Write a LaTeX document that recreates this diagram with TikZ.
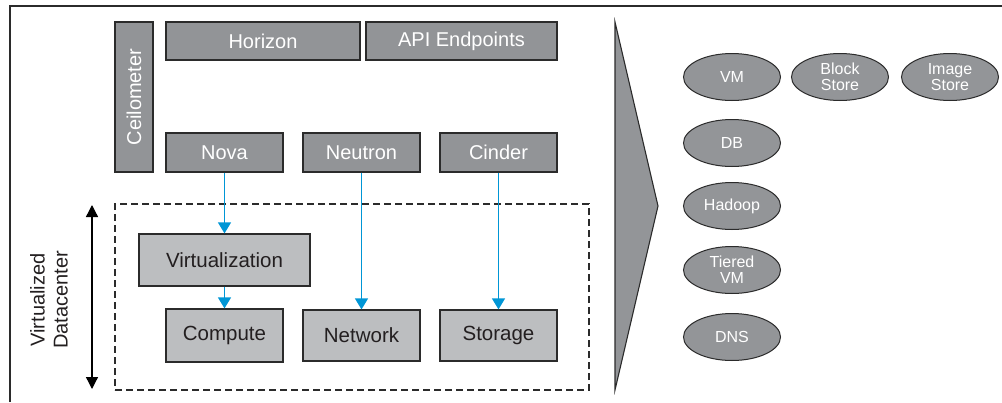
\documentclass[tikz,border=0pt]{standalone}
\usepackage{fontspec}
\setmainfont{Liberation Sans}
\usetikzlibrary{arrows.meta,shapes.geometric}
\definecolor{darkbox}{HTML}{929497}
\definecolor{lightbox}{HTML}{BCBEC0}
\definecolor{ellgray}{HTML}{939598}
\definecolor{bluearr}{HTML}{0096D6}
\definecolor{edge}{HTML}{2B2B2B}
\definecolor{txt}{HTML}{231F20}
\tikzset{
  topbox/.style={draw=edge, line width=1.2pt, fill=darkbox, text=white, inner sep=0pt, font=\fontsize{20}{22}\selectfont},
  lowbox/.style={draw=edge, line width=1.2pt, fill=lightbox, text=txt, inner sep=0pt, font=\fontsize{20.5}{22}\selectfont},
  ell/.style={ellipse, draw=edge, line width=1pt, fill=ellgray, text=white, inner sep=0pt, minimum width=97pt, minimum height=47pt, align=center, font=\fontsize{16}{16}\selectfont},
  bluelink/.style={draw=bluearr, line width=1.2pt, -{Triangle[width=13pt,length=11pt]}},
}
\begin{document}
\begin{tikzpicture}[x=1pt,y=-1pt]
\useasboundingbox (0,0) rectangle (1002,402);
% outer frame (cropped)
\draw[edge, line width=1.3pt] (10,402) -- (10,6) -- (1002,6);
% top boxes
\node[topbox, rotate=90, minimum width=150pt, minimum height=38pt] (ceil) at (134,97) {Ceilometer};
\node[topbox, minimum width=194pt, minimum height=38pt] (horizon) at (263,41) {Horizon};
\node[topbox, minimum width=191pt, minimum height=38pt] (api) at (461.5,41) {API Endpoints};
\node[topbox, minimum width=117pt, minimum height=39pt] (nova) at (224.5,152.5) {Nova};
\node[topbox, minimum width=117pt, minimum height=39pt] (neutron) at (361.5,152.5) {Neutron};
\node[topbox, minimum width=117pt, minimum height=39pt] (cinder) at (498.5,152.5) {Cinder};
% dashed datacenter box
\node[draw=edge, line width=1.1pt, dash pattern=on 7pt off 4pt, minimum width=474pt, minimum height=186pt, inner sep=0pt] (dc) at (352,297) {};
% lower boxes
\node[lowbox, minimum width=171pt, minimum height=52pt] (virt) at (224.5,260) {Virtualization};
\node[lowbox, minimum width=117pt, minimum height=53pt] (compute) at (224.5,335.5) {Compute};
\node[lowbox, minimum width=117pt, minimum height=51pt] (network) at (361.5,335.5) {Network};
\node[lowbox, minimum width=117pt, minimum height=51pt] (storage) at (498.5,335.5) {Storage};
% blue arrows
\draw[bluelink] (nova.south) -- (virt.north);
\draw[bluelink] (virt.south) -- (compute.north);
\draw[bluelink] (neutron.south) -- (network.north);
\draw[bluelink] (cinder.south) -- (storage.north);
% double arrow and label
\coordinate (dtop) at (92,205);
\coordinate (dbot) at (92,389);
\draw[black, line width=1.3pt, {Triangle[width=12pt,length=12pt]}-{Triangle[width=12pt,length=12pt]}] (dtop) -- (dbot);
\node[rotate=90, align=center, text=txt, font=\fontsize{20}{23}\selectfont] (vdc) at (49,300) {Virtualized\\Datacenter};
% chevron
\draw[edge, line width=1.1pt, fill=ellgray] (615,22) -- (658,206) -- (615,390) -- cycle;
% ellipses
\node[ell] (vm) at (732,77) {VM};
\node[ell] (block) at (840,77) {Block\\Store};
\node[ell] (image) at (950,77) {Image\\Store};
\node[ell] (db) at (732,143) {DB};
\node[ell] (hadoop) at (732,206) {Hadoop};
\node[ell] (tiered) at (732,270) {Tiered\\VM};
\node[ell] (dns) at (732,337) {DNS};
\end{tikzpicture}
\end{document}
